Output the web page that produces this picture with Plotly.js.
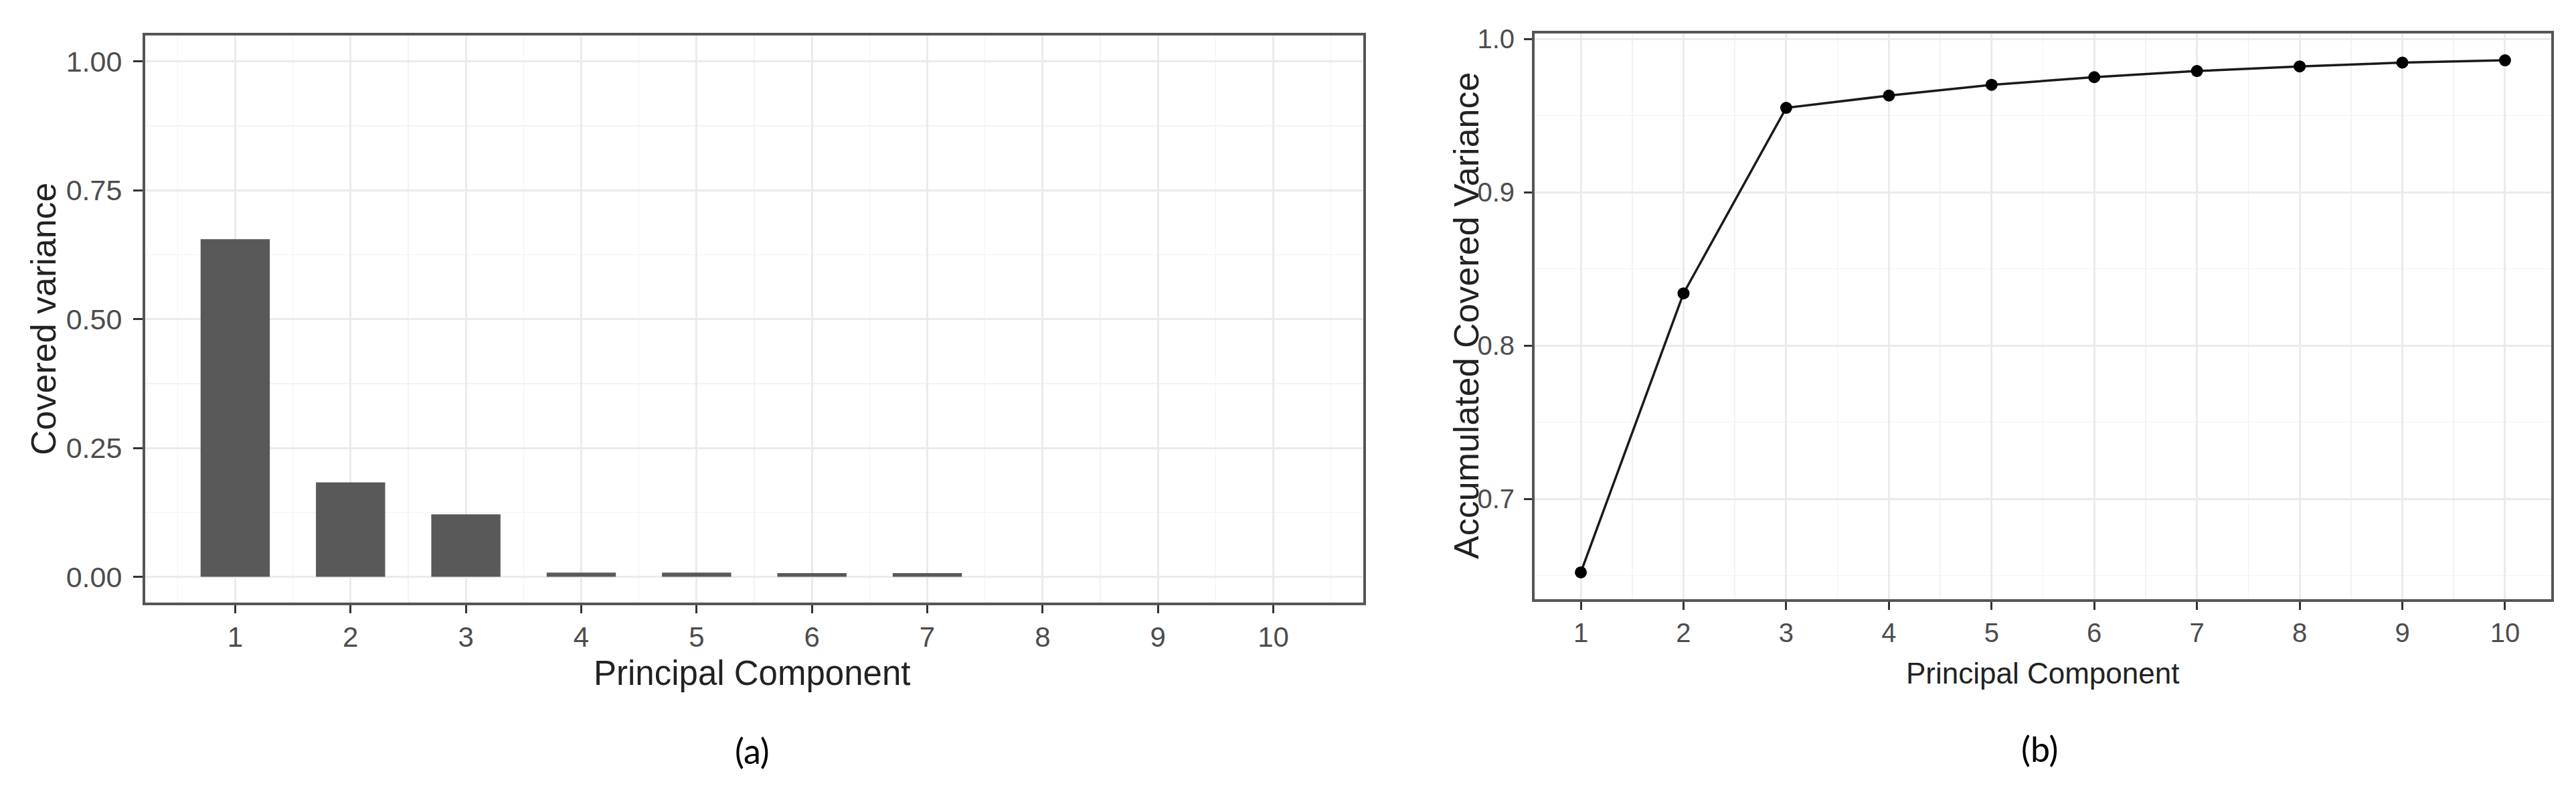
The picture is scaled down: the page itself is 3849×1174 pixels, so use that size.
<!DOCTYPE html>
<html>
<head>
<meta charset="utf-8">
<script src="https://cdn.plot.ly/plotly-3.0.1.min.js"></script>
<style>
  html, body { margin: 0; padding: 0; background: #fff; }
  #chart { width: 3849px; height: 1174px; }
</style>
</head>
<body>
<div id="chart"></div>
<script>
(function(){
  // ---------- Data ----------
  const components = [1, 2, 3, 4, 5, 6, 7, 8, 9, 10];
  const coveredVariance = [0.655, 0.183, 0.121, 0.008, 0.008, 0.007, 0.007, 0, 0, 0];
  const accumulatedVariance = [0.652, 0.834, 0.955, 0.963, 0.970, 0.975, 0.979, 0.982, 0.9845, 0.986];
  const leftYTicks = [0, 0.25, 0.5, 0.75, 1.0];
  const rightYTicks = [0.7, 0.8, 0.9, 1.0];

  // ---------- Style ----------
  const FONT = 'Liberation Sans, Arial, sans-serif';
  const gridMajor = '#EBEBEB';
  const gridMinor = '#F3F3F3';
  const frame = '#555555';
  const W = 3849, H = 1174;

  function px(x){ return x / W; }
  function py(y){ return 1 - y / H; }

  function baseAxis(extra){
    return Object.assign({
      showline: true, mirror: true, linecolor: frame, linewidth: 4,
      ticks: 'outside', tickcolor: '#333', tickwidth: 3,
      showgrid: true, gridcolor: gridMajor, gridwidth: 3,
      zeroline: false, fixedrange: true,
      tickfont: { family: FONT, color: '#4D4D4D' }
    }, extra);
  }

  const traces = [
    {
      type: 'bar', x: components, y: coveredVariance, width: 0.6,
      marker: { color: '#595959', line: { width: 0 } },
      xaxis: 'x', yaxis: 'y', hoverinfo: 'x+y', showlegend: false
    },
    {
      type: 'scatter', mode: 'lines+markers', x: components, y: accumulatedVariance,
      line: { color: '#1a1a1a', width: 3.5 },
      marker: { color: '#000', size: 18 },
      xaxis: 'x2', yaxis: 'y2', hoverinfo: 'x+y', showlegend: false
    }
  ];

  const layout = {
    width: W, height: H,
    margin: { l: 0, r: 0, t: 0, b: 0 },
    paper_bgcolor: '#fff', plot_bgcolor: '#fff',
    font: { family: FONT },
    xaxis: baseAxis({
      domain: [px(217), px(2037)], anchor: 'y',
      range: [0.22, 10.78], tickvals: components, ticklen: 12,
      tickfont: { family: FONT, color: '#4D4D4D', size: 42 },
      ticklabelstandoff: 0,
      minor: { tick0: 0.5, dtick: 1, showgrid: true, gridcolor: gridMinor, gridwidth: 1.5, ticks: '' }
    }),
    yaxis: baseAxis({
      domain: [py(900), py(53)], anchor: 'x',
      range: [-0.05, 1.05], tickvals: leftYTicks, tickformat: '.2f', ticklen: 14,
      tickfont: { family: FONT, color: '#4D4D4D', size: 43 },
      ticklabelstandoff: 8,
      minor: { tick0: 0.125, dtick: 0.25, showgrid: true, gridcolor: gridMinor, gridwidth: 1.5, ticks: '' }
    }),
    xaxis2: baseAxis({
      domain: [px(2293), px(3812)], anchor: 'y2',
      range: [0.55, 10.45], tickvals: components, ticklen: 12,
      tickfont: { family: FONT, color: '#4D4D4D', size: 40 },
      ticklabelstandoff: 0,
      minor: { tick0: 0.5, dtick: 1, showgrid: true, gridcolor: gridMinor, gridwidth: 1.5, ticks: '' }
    }),
    yaxis2: baseAxis({
      domain: [py(895), py(50)], anchor: 'x2',
      range: [0.6345, 1.0035], tickvals: rightYTicks, tickformat: '.1f', ticklen: 12,
      tickfont: { family: FONT, color: '#4D4D4D', size: 40 },
      ticklabelstandoff: 6,
      minor: { tick0: 0.65, dtick: 0.1, showgrid: true, gridcolor: gridMinor, gridwidth: 1.5, ticks: '' }
    }),
    annotations: [
      { text: 'Principal Component', x: px(1123), y: py(1005), xref: 'paper', yref: 'paper',
        xanchor: 'center', yanchor: 'middle', showarrow: false,
        font: { family: FONT, size: 51, color: '#222' } },
      { text: 'Covered variance', x: px(65), y: py(476), xref: 'paper', yref: 'paper',
        xanchor: 'center', yanchor: 'middle', showarrow: false, textangle: -90,
        font: { family: FONT, size: 52, color: '#222' } },
      { text: 'Principal Component', x: px(3052), y: py(1005), xref: 'paper', yref: 'paper',
        xanchor: 'center', yanchor: 'middle', showarrow: false,
        font: { family: FONT, size: 44, color: '#222' } },
      { text: 'Accumulated Covered Variance', x: px(2191), y: py(472), xref: 'paper', yref: 'paper',
        xanchor: 'center', yanchor: 'middle', showarrow: false, textangle: -90,
        font: { family: FONT, size: 52, color: '#222' } },
      { text: '(a)', x: px(1124), y: py(1121), xref: 'paper', yref: 'paper',
        xanchor: 'center', yanchor: 'middle', showarrow: false,
        font: { family: 'Lato, Open Sans, sans-serif', size: 52, color: '#000' } },
      { text: '(b)', x: px(3047), y: py(1118), xref: 'paper', yref: 'paper',
        xanchor: 'center', yanchor: 'middle', showarrow: false,
        font: { family: 'Lato, Open Sans, sans-serif', size: 52, color: '#000' } }
    ]
  };

  Plotly.newPlot('chart', traces, layout, { displayModeBar: false, staticPlot: true });
})();
</script>
</body>
</html>
